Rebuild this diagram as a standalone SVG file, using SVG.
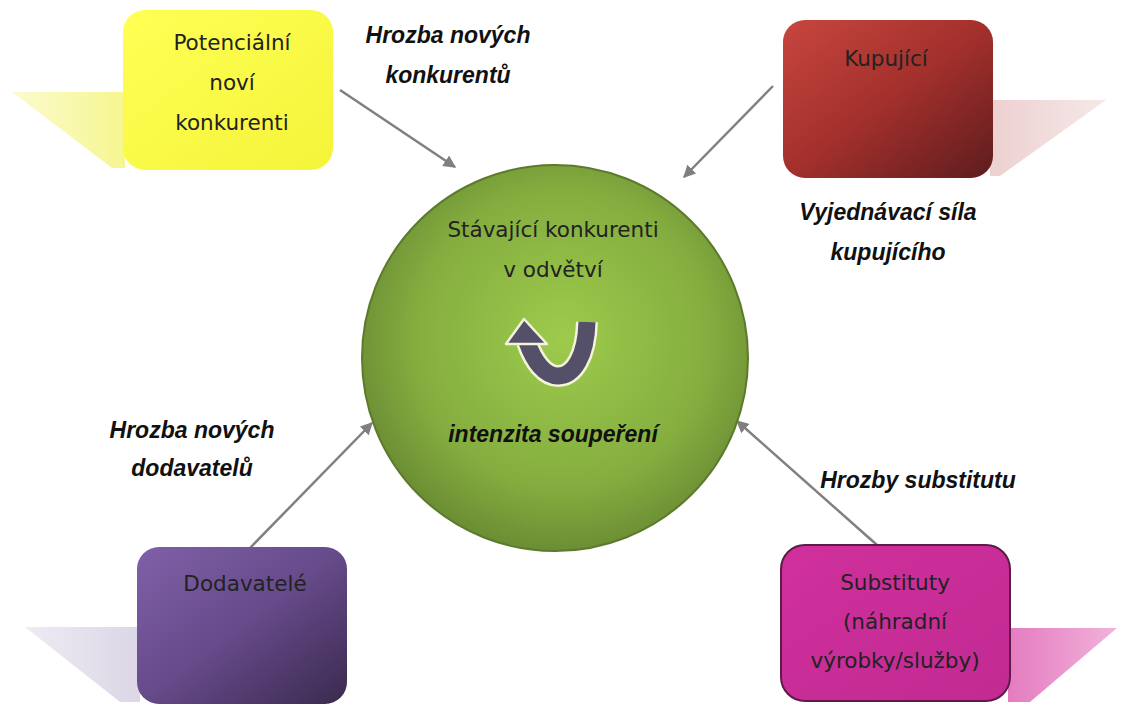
<svg xmlns="http://www.w3.org/2000/svg" width="1121" height="706" viewBox="0 0 1121 706">
<defs>
<linearGradient id="gY" x1="0" y1="0" x2="1" y2="1"><stop offset="0" stop-color="#ffff55"/><stop offset="1" stop-color="#f4f43a"/></linearGradient>
<linearGradient id="gR" x1="0" y1="0" x2="1" y2="1"><stop offset="0" stop-color="#c8463f"/><stop offset="0.5" stop-color="#a3302c"/><stop offset="1" stop-color="#5e1c1e"/></linearGradient>
<linearGradient id="gP" x1="0" y1="0" x2="1" y2="1"><stop offset="0" stop-color="#8060a8"/><stop offset="0.5" stop-color="#664a8a"/><stop offset="1" stop-color="#3a2a4e"/></linearGradient>
<linearGradient id="gM" x1="0" y1="0" x2="1" y2="1"><stop offset="0" stop-color="#d0309c"/><stop offset="1" stop-color="#c22a92"/></linearGradient>
<radialGradient id="gC" cx="0.52" cy="0.45" r="0.55"><stop offset="0" stop-color="#9dcb4c"/><stop offset="0.7" stop-color="#84ad3f"/><stop offset="1" stop-color="#6c8e34"/></radialGradient>
<linearGradient id="sY" x1="0" y1="0" x2="1" y2="0"><stop offset="0" stop-color="#fbfbd0"/><stop offset="1" stop-color="#f6f690"/></linearGradient>
<linearGradient id="sR" x1="0" y1="0" x2="1" y2="0"><stop offset="0" stop-color="#edd0d0"/><stop offset="1" stop-color="#f6e8e8"/></linearGradient>
<linearGradient id="sP" x1="0" y1="0" x2="1" y2="0"><stop offset="0" stop-color="#efebf3"/><stop offset="1" stop-color="#dcd6e6"/></linearGradient>
<linearGradient id="sM" x1="0" y1="0" x2="1" y2="0"><stop offset="0" stop-color="#e47cc0"/><stop offset="1" stop-color="#f2b2da"/></linearGradient>
<marker id="ah" viewBox="0 0 10 10" refX="9" refY="5" markerWidth="5" markerHeight="5" orient="auto" markerUnits="strokeWidth"><path d="M0,0 L10,5 L0,10 z" fill="#7f7f7f"/></marker>
</defs>
<style>
.lbl{font-family:"Liberation Sans",Arial,sans-serif;font-weight:bold;font-style:italic;font-size:23px;fill:#111;text-anchor:middle}
.bt{font-family:"DejaVu Sans","Liberation Sans",sans-serif;font-size:21.5px;fill:#222;text-anchor:middle}
.con{stroke:#808080;stroke-width:2.5;fill:none;marker-end:url(#ah)}
</style>
<rect width="1121" height="706" fill="#ffffff"/>

<g id="shadows">
<polygon points="12,92 125,92 125,168 112,168" fill="url(#sY)"/>
<polygon points="990,100 1106,100 1000,176 990,176" fill="url(#sR)"/>
<polygon points="25,627 140,627 140,702 120,702" fill="url(#sP)"/>
<polygon points="1008,628 1117,628 1030,702 1008,702" fill="url(#sM)"/>
</g>

<g id="connectors">
<line class="con" x1="340" y1="90" x2="455" y2="167"/>
<line class="con" x1="773" y1="86" x2="684" y2="177"/>
<line class="con" x1="250" y1="548" x2="372" y2="423"/>
<line class="con" x1="877" y1="545" x2="737" y2="421"/>
</g>

<g id="node-center">
<circle cx="555" cy="358" r="193" fill="url(#gC)" stroke="#5c7a2c" stroke-width="2"/>
<text class="bt" x="553" y="237">Stávající konkurenti</text>
<text class="bt" x="553" y="277">v odvětví</text>
<path d="M587,322 C586,356 574,376 558,376 C545,376 534,362 527,342" fill="none" stroke="#f4f4d8" stroke-width="22"/>
<path d="M587,322 C586,356 574,376 558,376 C545,376 534,362 527,342" fill="none" stroke="#55506a" stroke-width="17"/>
<polygon points="524,319 547,344 506,344" fill="#55506a" stroke="#f4f4d8" stroke-width="2.5" stroke-linejoin="round"/>
<text class="lbl" x="553" y="442">intenzita soupeření</text>
</g>

<g id="node-potencialni">
<rect x="123" y="10" width="210" height="160" rx="22" fill="url(#gY)"/>
<text class="bt" x="232" y="50">Potenciální</text>
<text class="bt" x="232" y="90">noví</text>
<text class="bt" x="232" y="130">konkurenti</text>
</g>

<g id="node-kupujici">
<rect x="783" y="20" width="210" height="158" rx="22" fill="url(#gR)"/>
<text class="bt" x="886" y="66">Kupující</text>
</g>

<g id="node-dodavatele">
<rect x="137" y="547" width="210" height="157" rx="22" fill="url(#gP)"/>
<text class="bt" x="245" y="591">Dodavatelé</text>
</g>

<g id="node-substituty">
<rect x="781" y="545" width="229" height="156" rx="24" fill="url(#gM)" stroke="#5e1a48" stroke-width="2"/>
<text class="bt" x="895" y="590">Substituty</text>
<text class="bt" x="895" y="629">(náhradní</text>
<text class="bt" x="895" y="668">výrobky/služby)</text>
</g>

<g id="labels">
<text class="lbl" x="448" y="43">Hrozba nových</text>
<text class="lbl" x="448" y="83">konkurentů</text>
<text class="lbl" x="888" y="220">Vyjednávací síla</text>
<text class="lbl" x="888" y="260">kupujícího</text>
<text class="lbl" x="192" y="438">Hrozba nových</text>
<text class="lbl" x="192" y="476">dodavatelů</text>
<text class="lbl" x="918" y="488">Hrozby substitutu</text>
</g>
</svg>
